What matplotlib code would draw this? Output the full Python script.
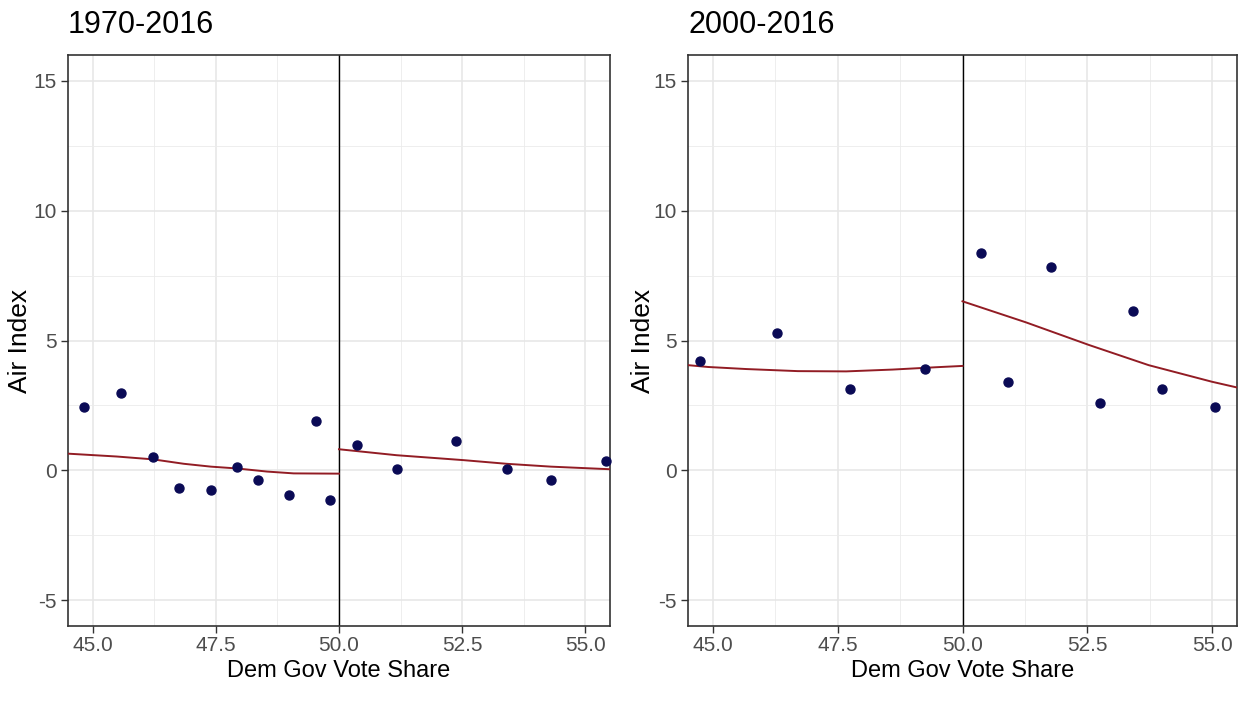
import matplotlib
matplotlib.use('Agg')
import matplotlib.pyplot as plt
from matplotlib.ticker import MultipleLocator

plt.rcParams['font.family'] = ['Liberation Sans', 'DejaVu Sans']
plt.rcParams['axes.unicode_minus'] = False

################
# Data #########
################

# panel titles
titles = ['1970-2016', '2000-2016']

# 1970-2016 binned means
x_7016 = [44.82, 45.58, 46.23, 46.76, 47.40, 47.93, 48.36, 48.98, 49.53, 49.82,
          50.36, 51.17, 52.37, 53.40, 54.30, 55.42]
y_7016 = [2.42, 2.96, 0.51, -0.67, -0.76, 0.13, -0.36, -0.97, 1.88, -1.13,
          0.97, 0.03, 1.11, 0.03, -0.36, 0.35]

# 1970-2016 fitted lines (left / right of cutoff)
fitL_x_7016 = [44.5, 45.49, 46.23, 46.85, 47.40, 47.93, 48.54, 49.08, 50.0]
fitL_y_7016 = [0.64, 0.53, 0.42, 0.25, 0.14, 0.07, -0.05, -0.12, -0.13]
fitR_x_7016 = [50.0, 51.17, 52.53, 53.40, 54.30, 55.5]
fitR_y_7016 = [0.81, 0.58, 0.39, 0.25, 0.14, 0.04]

# 2000-2016 binned means
x_0016 = [44.75, 46.29, 47.75, 49.24, 50.38, 50.91, 51.78, 52.75, 53.41, 54.00, 55.05]
y_0016 = [4.21, 5.28, 3.12, 3.90, 8.38, 3.41, 7.83, 2.58, 6.14, 3.12, 2.42]

# 2000-2016 fitted lines
fitL_x_0016 = [44.5, 44.9, 45.67, 46.70, 47.67, 48.60, 49.47, 50.0]
fitL_y_0016 = [4.05, 3.98, 3.90, 3.82, 3.81, 3.88, 3.97, 4.02]
fitR_x_0016 = [50.0, 51.27, 52.53, 53.73, 55.0, 55.5]
fitR_y_0016 = [6.51, 5.70, 4.83, 4.05, 3.41, 3.19]

cutoff = 50.0

panels = [
    (x_7016, y_7016, fitL_x_7016, fitL_y_7016, fitR_x_7016, fitR_y_7016),
    (x_0016, y_0016, fitL_x_0016, fitL_y_0016, fitR_x_0016, fitR_y_0016),
]

################
# Plot #########
################

W, H = 1238, 702
fig = plt.figure(figsize=(W / 100, H / 100), dpi=100)

# axes boxes in pixels: (left, top, right, bottom)
boxes = [(68, 55, 610, 626), (688, 55, 1237, 626)]
ylab_x = [-0.066, -0.060]

for i, (box, title, data) in enumerate(zip(boxes, titles, panels)):
    l, t, r, b = box
    ax = fig.add_axes([l / W, 1 - b / H, (r - l) / W, (b - t) / H])
    px, py, lx, ly, rx, ry = data

    # theme_bw style grid
    ax.set_axisbelow(True)
    ax.xaxis.set_major_locator(MultipleLocator(2.5))
    ax.xaxis.set_minor_locator(MultipleLocator(1.25))
    ax.yaxis.set_major_locator(MultipleLocator(5))
    ax.yaxis.set_minor_locator(MultipleLocator(2.5))
    ax.grid(which='major', color='#E6E6E6', linewidth=1.1)
    ax.grid(which='minor', color='#EBEBEB', linewidth=0.6)

    ax.axvline(cutoff, color='black', linewidth=1.0)
    ax.plot(lx, ly, color='#921c24', linewidth=1.4, zorder=3)
    ax.plot(rx, ry, color='#921c24', linewidth=1.4, zorder=3)
    ax.scatter(px, py, s=42, color='#0a0a55', zorder=4, clip_on=False)

    ax.set_xlim(44.5, 55.5)
    ax.set_ylim(-6, 16)
    ax.set_xticks([45, 47.5, 50, 52.5, 55])
    ax.set_xticklabels(['45.0', '47.5', '50.0', '52.5', '55.0'])
    ax.set_yticks([-5, 0, 5, 10, 15])
    ax.tick_params(which='minor', length=0)
    ax.tick_params(which='major', length=5, width=1, color='#333333',
                   labelcolor='#4D4D4D', labelsize=15, pad=3)
    ax.tick_params(axis='x', pad=2)
    for s in ax.spines.values():
        s.set_color('#333333')
        s.set_linewidth(1.2)

    ax.set_xlabel('Dem Gov Vote Share', fontsize=17, color='black')
    ax.xaxis.set_label_coords(0.5, -0.060)
    ax.set_ylabel('Air Index', fontsize=19, color='black')
    ax.yaxis.set_label_coords(ylab_x[i], 0.5)
    ax.set_title(title, loc='left', fontsize=22, color='black', pad=16)

plt.savefig('out.png', dpi=100)
